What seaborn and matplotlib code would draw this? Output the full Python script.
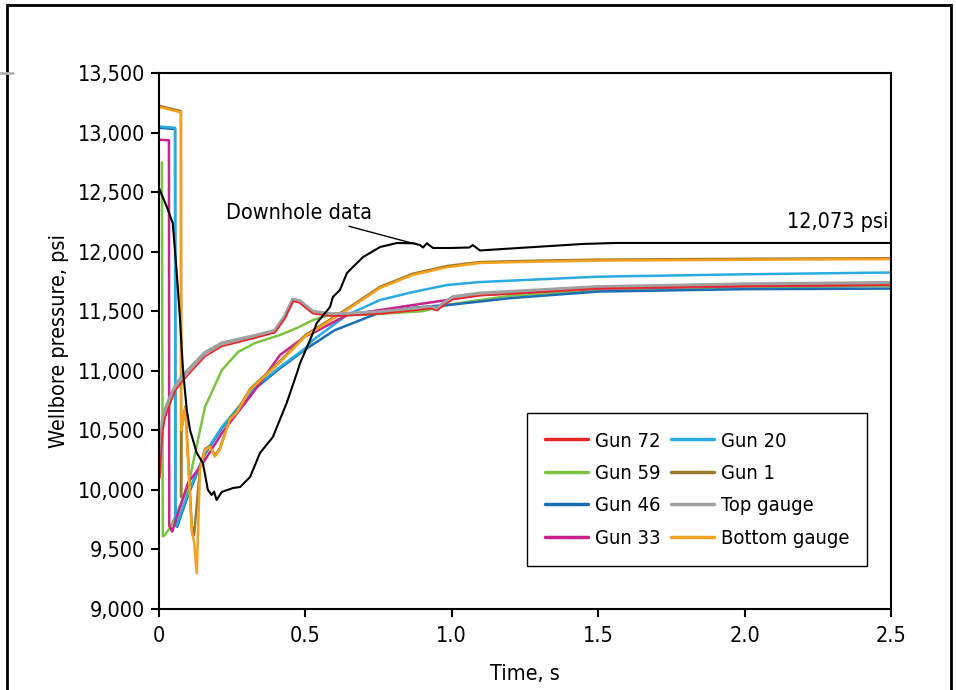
import matplotlib
matplotlib.use("Agg")
import matplotlib.pyplot as plt
import seaborn as sns
from matplotlib.lines import Line2D

# ---- data (time in s, pressure in psi) ----
t_gun72 = [0.003, 0.006, 0.012, 0.02, 0.031, 0.055, 0.079, 0.157, 0.215, 0.328, 0.396, 0.43, 0.458,
           0.48, 0.505, 0.526, 0.584, 0.642, 0.755, 0.867, 0.926, 0.95, 0.97, 1.004, 1.096, 1.5, 2.0, 2.5]
p_gun72 = [10100, 10250, 10480, 10600, 10680, 10830, 10910, 11120, 11205, 11275, 11320, 11440, 11585,
           11570, 11520, 11480, 11460, 11462, 11478, 11505, 11522, 11505, 11545, 11600, 11630, 11690, 11710, 11720]

t_top = [0.003, 0.006, 0.012, 0.02, 0.031, 0.055, 0.079, 0.157, 0.215, 0.328, 0.396, 0.43, 0.458,
         0.48, 0.505, 0.526, 0.584, 0.642, 0.755, 0.867, 0.926, 0.95, 0.97, 1.004, 1.096, 1.5, 2.0, 2.5]
p_top = [10150, 10320, 10560, 10660, 10730, 10864, 10950, 11150, 11230, 11292, 11335, 11455, 11598,
         11585, 11535, 11495, 11475, 11477, 11492, 11518, 11535, 11520, 11560, 11618, 11648, 11702, 11725, 11737]

t_gun59 = [0.01, 0.013, 0.02, 0.04, 0.099, 0.157, 0.215, 0.27, 0.328, 0.413, 0.471, 0.526, 0.56,
           0.584, 0.7, 0.9, 1.0, 1.2, 1.5, 2.0, 2.5]
p_gun59 = [12750, 9610, 9620, 9690, 10024, 10696, 11007, 11157, 11233, 11300, 11359, 11426, 11451,
           11468, 11470, 11500, 11560, 11630, 11680, 11700, 11712]

t_gun46 = [0.0, 0.055, 0.056, 0.062, 0.1, 0.157, 0.215, 0.328, 0.413, 0.5, 0.6, 0.76, 0.87,
           1.0, 1.2, 1.5, 2.0, 2.5]
p_gun46 = [13040, 13030, 9710, 9690, 9960, 10300, 10520, 10850, 11020, 11180, 11340, 11495, 11530,
           11555, 11610, 11665, 11685, 11690]

t_gun33 = [0.0, 0.034, 0.035, 0.045, 0.099, 0.157, 0.215, 0.328, 0.413, 0.5, 0.526, 0.642, 0.755,
           0.867, 0.984, 1.096, 1.5, 2.0, 2.5]
p_gun33 = [12940, 12935, 9700, 9650, 10058, 10250, 10478, 10838, 11132, 11290, 11317, 11468, 11510,
           11552, 11594, 11636, 11690, 11710, 11722]

t_gun20 = [0.0, 0.055, 0.056, 0.06, 0.099, 0.157, 0.215, 0.328, 0.413, 0.5, 0.526, 0.642, 0.755,
           0.867, 0.984, 1.096, 1.5, 2.0, 2.5]
p_gun20 = [13050, 13040, 9720, 9700, 9974, 10310, 10528, 10864, 11032, 11190, 11258, 11468, 11594,
           11661, 11720, 11745, 11790, 11810, 11825]

t_gun1 = [0.0, 0.075, 0.0755, 0.076, 0.09, 0.112, 0.12, 0.14, 0.157, 0.174, 0.191, 0.208, 0.242,
          0.265, 0.311, 0.413, 0.5, 0.642, 0.755, 0.867, 0.984, 1.096, 1.3, 1.5, 2.0, 2.5]
p_gun1 = [13225, 13180, 9940, 10500, 10700, 9700, 9620, 10180, 10345, 10368, 10290, 10350, 10598,
          10655, 10848, 11080, 11300, 11520, 11705, 11815, 11880, 11913, 11925, 11933, 11940, 11945]

t_bottom = [0.0, 0.075, 0.076, 0.09, 0.112, 0.12, 0.129, 0.14, 0.157, 0.174, 0.191, 0.208, 0.242,
            0.265, 0.311, 0.413, 0.5, 0.642, 0.755, 0.867, 0.984, 1.096, 1.3, 1.5, 2.0, 2.5]
p_bottom = [13215, 13170, 10500, 10690, 9650, 9560, 9300, 10170, 10335, 10360, 10280, 10340, 10590,
            10645, 10840, 11070, 11290, 11510, 11695, 11805, 11870, 11905, 11917, 11925, 11932, 11938]

t_downhole = [0.0, 0.027, 0.047, 0.06, 0.072, 0.082, 0.095, 0.106, 0.129, 0.15, 0.167, 0.18, 0.188,
              0.197, 0.214, 0.253, 0.277, 0.311, 0.345, 0.389, 0.413, 0.436, 0.471, 0.482, 0.526, 0.539,
              0.584, 0.594, 0.618, 0.642, 0.652, 0.697, 0.755, 0.813, 0.87, 0.891, 0.902, 0.915, 0.936,
              1.0, 1.06, 1.072, 1.096, 1.223, 1.45, 1.56, 2.5]
p_downhole = [12534, 12375, 12240, 11846, 11426, 11007, 10670, 10503, 10310, 10226, 10000, 9957, 9985,
              9915, 9982, 10016, 10024, 10108, 10310, 10444, 10590, 10729, 10981, 11065, 11317, 11401,
              11535, 11620, 11678, 11821, 11846, 11955, 12039, 12073, 12070, 12056, 12035, 12070, 12031,
              12031, 12035, 12055, 12010, 12030, 12065, 12073, 12073]

series = [
    ("Gun 59", t_gun59, p_gun59, "#7dc243", 1.8),
    ("Gun 46", t_gun46, p_gun46, "#1b6db5", 1.8),
    ("Gun 20", t_gun20, p_gun20, "#29abe2", 1.8),
    ("Gun 33", t_gun33, p_gun33, "#c7238d", 1.8),
    ("Gun 1", t_gun1, p_gun1, "#9a7b2e", 1.8),
    ("Bottom gauge", t_bottom, p_bottom, "#f5a01e", 1.8),
    ("Top gauge", t_top, p_top, "#a0a0a0", 3.0),
    ("Gun 72", t_gun72, p_gun72, "#e8262a", 1.2),
]
legend_order = ["Gun 72", "Gun 59", "Gun 46", "Gun 33", "Gun 20", "Gun 1", "Top gauge", "Bottom gauge"]
x_ticks = [0, 0.5, 1.0, 1.5, 2.0, 2.5]
x_tick_labels = ["0", "0.5", "1.0", "1.5", "2.0", "2.5"]
y_ticks = [9000, 9500, 10000, 10500, 11000, 11500, 12000, 12500, 13000, 13500]

sns.set_style("ticks")
plt.rcParams["font.family"] = ["DejaVu Sans"]
plt.rcParams["font.stretch"] = "condensed"
plt.rcParams["text.color"] = "black"
plt.rcParams["axes.labelcolor"] = "black"
plt.rcParams["xtick.color"] = "black"
plt.rcParams["ytick.color"] = "black"
fs = 15.5

fig = plt.figure(figsize=(9.56, 6.9), dpi=100)
ax = fig.add_axes([0.1663, 0.1174, 0.7657, 0.7768])

for name, t, p, col, lw in series:
    sns.lineplot(x=t, y=p, ax=ax, color=col, lw=lw, estimator=None, sort=False, legend=False)
sns.lineplot(x=t_downhole, y=p_downhole, ax=ax, color="black", lw=1.5, estimator=None, sort=False,
             legend=False)

ax.set_xlim(0, 2.5)
ax.set_ylim(9000, 13500)
ax.set_xticks(x_ticks)
ax.set_xticklabels(x_tick_labels)
ax.set_yticks(y_ticks)
ax.set_yticklabels([f"{v:,}" for v in y_ticks])
ax.tick_params(axis="both", labelsize=fs, length=6, width=1.5, color="black", direction="out", pad=4)
ax.tick_params(axis="x", pad=6)
for s in ax.spines.values():
    s.set_linewidth(1.5)
    s.set_color("black")

ax.set_xlabel("Time, s", fontsize=fs, labelpad=13)
ax.set_ylabel("Wellbore pressure, psi", fontsize=fs, labelpad=6)

ax.annotate("Downhole data", xy=(0.885, 12058), xytext=(0.728, 12325),
            ha="right", va="center", fontsize=fs,
            arrowprops=dict(arrowstyle="-", color="black", lw=1.0, shrinkA=0, shrinkB=0))
ax.text(2.49, 12250, "12,073 psi", ha="right", va="center", fontsize=fs)

colors = {name: col for name, _, _, col, _ in series}
handles = [Line2D([], [], color=colors[n], lw=2.5) for n in legend_order]
leg = ax.legend(handles, legend_order, ncol=2, loc="lower left", bbox_to_anchor=(0.503, 0.08),
                borderaxespad=0, fontsize=14.5, frameon=True, fancybox=False, edgecolor="black",
                framealpha=1, handlelength=2.1, handletextpad=0.35, columnspacing=0.55,
                labelspacing=0.67, borderpad=0.9)
leg.get_frame().set_linewidth(1.0)

# outer page frame and the small grey rule at the left edge
fig.add_artist(plt.Rectangle((0.0073, -0.01), 0.9875, 1.0028, transform=fig.transFigure,
                             fill=False, edgecolor="black", lw=2))
fig.add_artist(Line2D([0, 0.014], [0.894, 0.894], transform=fig.transFigure, color="#b0b0b0", lw=2))

fig.savefig("out.png", dpi=100)
